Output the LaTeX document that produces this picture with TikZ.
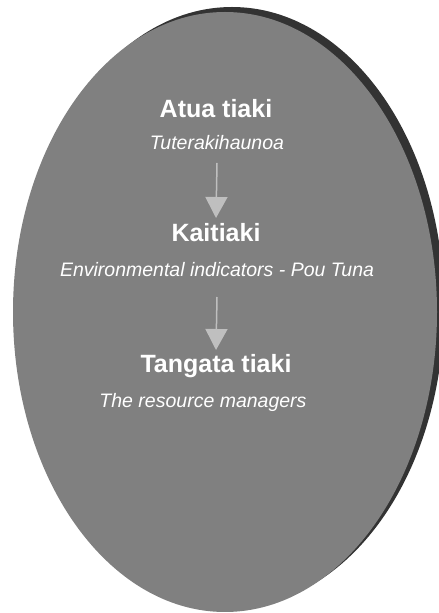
\documentclass[tikz,border=0pt]{standalone}
\usepackage{fontspec}
\setmainfont{Liberation Sans}
\usetikzlibrary{arrows.meta}
\definecolor{discgray}{HTML}{808080}
\definecolor{shadowgray}{HTML}{333333}
\definecolor{arrowgray}{HTML}{BFBFBF}
\begin{document}
\begin{tikzpicture}[x=1pt, y=1pt,
    heading/.style={text=white, font=\bfseries\fontsize{25}{30}\selectfont, anchor=base, inner sep=0pt},
    subline/.style={text=white, font=\itshape\fontsize{19.5}{24}\selectfont, anchor=base, inner sep=0pt},
    flowarrow/.style={draw=arrowgray, fill=arrowgray, line width=1.5pt, -{Triangle[width=22pt, length=21pt]}}]
    \useasboundingbox (0,0) rectangle (439,613);
    \clip (0,0) rectangle (439,613);
    % disc with its shadow
    \fill[shadowgray] (232,306) ellipse [x radius=212, y radius=300];
    \fill[discgray] (225,301) ellipse [x radius=212, y radius=300];
    % levels
    \node[heading] (atua) at (216,495) {Atua tiaki};
    \node[subline] (tute) at (217,463) {Tuterakihaunoa};
    \node[heading] (kai) at (216,371) {Kaitiaki};
    \node[subline] (env) at (217,336) {Environmental indicators - Pou Tuna};
    \node[heading] (tangata) at (216,240) {Tangata tiaki};
    \node[subline] (res) at (203,205) {The resource managers};
    \draw[flowarrow] ([yshift=-13pt]tute.base) -- ([yshift=24pt]kai.base);
    \draw[flowarrow] ([yshift=-20pt]env.base) -- ([yshift=23pt]tangata.base);
\end{tikzpicture}
\end{document}
